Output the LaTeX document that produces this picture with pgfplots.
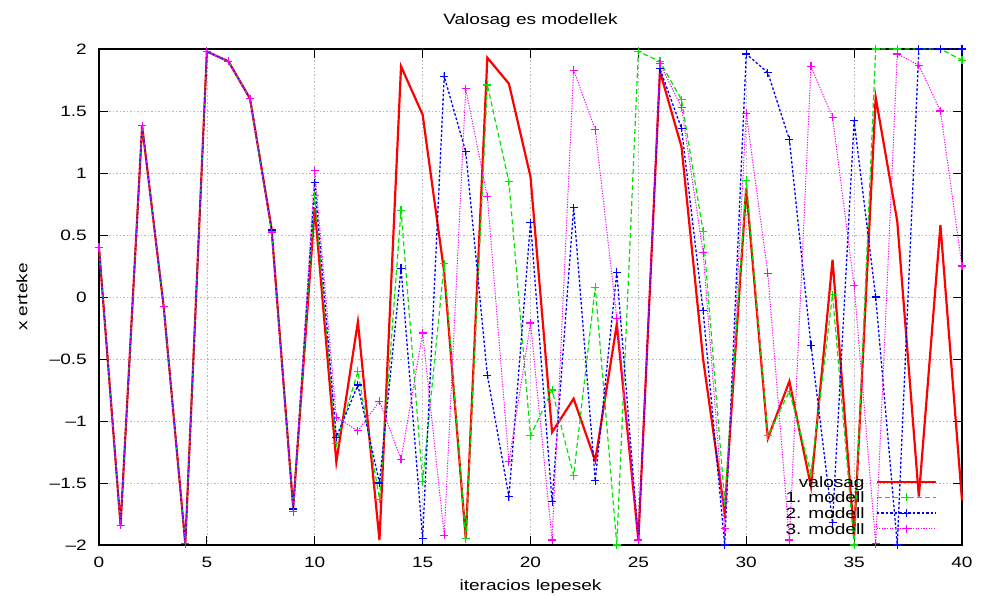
\documentclass[border=0pt]{standalone}
\usepackage{fontspec}
\setmainfont{Liberation Sans}[FakeStretch=1.27]
\usepackage{pgfplots}
\usepackage{pgfplotstable}
\pgfplotsset{compat=1.18}

\definecolor{gpred}{RGB}{255,0,0}
\definecolor{gpgreen}{RGB}{0,230,0}
\definecolor{gpblue}{RGB}{0,0,255}
\definecolor{gpmag}{RGB}{255,0,255}

% x, valosag, 1. modell, 2. modell, 3. modell
\pgfplotstableread{
x  r      g      b      m
0  0.40   0.40   0.40   0.40
1  -1.84  -1.84  -1.84  -1.84
2  1.38   1.38   1.38   1.38
3  -0.08  -0.08  -0.08  -0.08
4  -1.99  -1.99  -1.99  -1.99
5  1.98   1.98   1.98   1.98
6  1.90   1.90   1.90   1.90
7  1.60   1.60   1.60   1.60
8  0.55   0.53   0.54   0.52
9  -1.70  -1.71  -1.71  -1.73
10 0.72   0.82   0.92   1.02
11 -1.33  -1.18  -1.13  -0.97
12 -0.20  -0.60  -0.71  -1.08
13 -1.96  -1.63  -1.50  -0.84
14 1.86   0.70   0.23   -1.31
15 1.47   -1.49  -1.95  -0.29
16 0.20   0.27   1.78   -1.92
17 -1.95  -1.95  1.17   1.68
18 1.93   1.71   -0.63  0.81
19 1.72   0.93   -1.61  -1.33
20 0.97   -1.12  0.60   -0.21
21 -1.09  -0.75  -1.65  -1.96
22 -0.82  -1.44  0.72   1.83
23 -1.32  0.08   -1.48  1.35
24 -0.22  -2.00  0.20   -0.17
25 -1.96  1.98   -1.96  -1.96
26 1.82   1.90   1.84   1.88
27 1.21   1.59   1.36   1.53
28 -0.50  0.53   -0.11  0.36
29 -1.74  -1.65  -2.00  -1.87
30 0.88   0.94   1.96   1.48
31 -1.14  -1.12  1.81   0.19
32 -0.68  -0.76  1.27   -1.96
33 -1.53  -1.42  -0.39  1.86
34 0.30   0.02   -1.82  1.45
35 -1.93  -2.00  1.42   0.09
36 1.61   2.00   0.00   -1.99
37 0.61   2.00   -2.00  1.96
38 -1.61  2.00   2.00   1.87
39 0.58   2.00   2.00   1.50
40 -1.64  1.91   2.00   0.25
}\data

\begin{document}
\begin{tikzpicture}[font=\fontsize{15}{18}\selectfont]
\useasboundingbox (-99pt,-50pt) rectangle (895pt,545pt);
\begin{axis}[
  at={(0pt,0pt)}, anchor=south west,
  scale only axis, width=863pt, height=496pt,
  xmin=0, xmax=40, ymin=-2, ymax=2,
  clip=false,
  xtick={0,5,...,40},
  xticklabels={0,5,10,15,20,25,30,35,40},
  ytick={-2,-1.5,-1,-0.5,0,0.5,1,1.5,2},
  yticklabels={–2,–1.5,–1,–0.5,0,0.5,1,1.5,2},
  xticklabel style={anchor=base, inner sep=0pt, yshift=-22pt},
  yticklabel style={anchor=east, inner sep=0pt, xshift=-12pt},
  tick align=inside,
  major tick length=9pt,
  tick style={black, line width=0.9pt},
  axis line style={black, line width=1.2pt},
  grid=major,
  major grid style={gray!55, line width=0.5pt, dash pattern=on 1.5pt off 2pt},
  title={Valosag es modellek},
  title style={at={(0.5,1.0363)}, anchor=base, inner sep=0pt},
  xlabel={iteracios lepesek},
  xlabel style={at={(0.5,-0.0927)}, anchor=base, inner sep=0pt},
  ylabel={x erteke},
  ylabel style={at={(-0.0892,0.5)}, anchor=center, inner sep=0pt},
  legend style={at={(0.971,0.0212)}, anchor=south east, draw=none, fill=none,
    inner sep=0pt, row sep=4.67pt, column sep=11pt,
    nodes={inner sep=0pt, text height=11pt, text depth=0pt}},
  legend cell align=right,
  legend plot pos=right,
  legend image code/.code={
    \draw[mark repeat=2, mark phase=2, #1] plot coordinates {(0pt,0pt) (29.5pt,0pt) (59pt,0pt)};
  },
]
\addplot[gpred, line width=2.2pt, no marks] table[x=x, y=r] {\data};
\addlegendentry{valosag}
\addplot[gpgreen, line width=1.2pt, dash pattern=on 5pt off 3pt,
  mark=+, mark size=4pt, mark options={solid, line width=1.1pt}] table[x=x, y=g] {\data};
\addlegendentry{1. modell}
\addplot[gpblue, line width=1.3pt, dash pattern=on 2.5pt off 2pt,
  mark=+, mark size=4pt, mark options={solid, line width=1.1pt}] table[x=x, y=b] {\data};
\addlegendentry{2. modell}
\addplot[gpmag, line width=1pt, dash pattern=on 1.2pt off 1.4pt,
  mark=+, mark size=4pt, mark options={solid, line width=1.1pt}] table[x=x, y=m] {\data};
\addlegendentry{3. modell}
\end{axis}
\end{tikzpicture}
\end{document}
